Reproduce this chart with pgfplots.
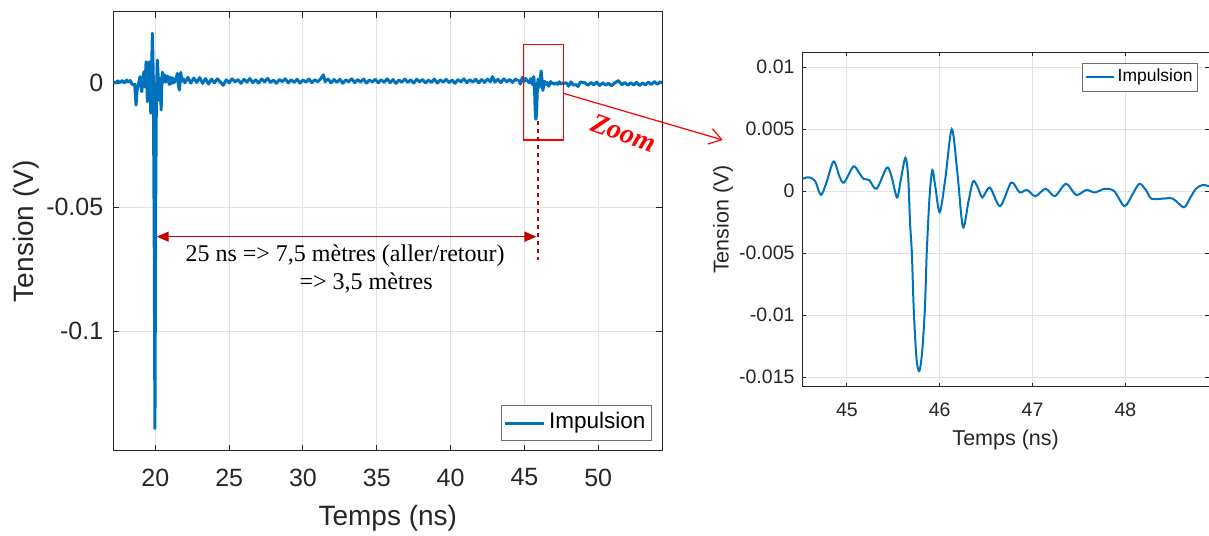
\documentclass[border=0pt]{standalone}
\usepackage{fontspec}
\setmainfont{Liberation Sans}
\newfontfamily\seriffont{Liberation Serif}
\usepackage{pgfplots}
\usepackage{pgfplotstable}
\pgfplotsset{compat=1.18}
\usetikzlibrary{arrows.meta}

\definecolor{mblue}{RGB}{0,114,189}
\definecolor{axgray}{RGB}{38,38,38}
\definecolor{gridgray}{RGB}{225,225,225}
\definecolor{darkred}{RGB}{192,0,0}
\definecolor{leggray}{RGB}{110,110,110}

% Left trace, start of record up to the echo
\pgfplotstableread{
x y
17.15 0.0006
17.3 0.0001
17.45 0.0010
17.6 0.0003
17.75 0.0011
17.9 0.0002
18.05 0.0013
18.17 0.0005
18.3 0.0011
18.42 -0.0003
18.51 -0.0007
18.6 -0.0003
18.69 -0.0088
18.76 -0.0030
18.82 -0.0010
18.9 0.0008
18.96 0.0027
19.02 -0.0006
19.08 -0.0034
19.15 0.0020
19.23 0.0047
19.3 -0.0015
19.37 0.0087
19.42 0.0010
19.46 -0.0074
19.52 0.0030
19.59 0.0087
19.64 0.0005
19.69 -0.0121
19.74 0.0050
19.80 0.0202
19.86 0.0020
19.92 -0.0600
19.97 -0.1393
20.02 -0.0500
20.07 -0.0040
20.14 0.0094
20.2 0.0010
20.27 -0.0070
20.33 0.0020
20.39 -0.0108
20.44 0.0010
20.48 0.0045
20.55 0.0005
20.6 0.0035
20.66 0.0027
20.72 0.0005
20.8 0.0030
20.88 0.0020
20.95 -0.0005
21.02 0.0025
21.1 -0.0001
21.17 0.0022
21.25 0.0002
21.33 0.0010
21.41 0.0020
21.49 0.0040
21.56 -0.0010
21.63 -0.0027
21.68 0.0010
21.72 0.0044
21.8 0.0008
21.9 0.0018
22.0 0.0002
22.2 0.0024
22.4 0.0001
22.6 0.0021
22.8 0.0004
23.0 0.0023
23.2 0.0000
23.4 0.0019
23.6 -0.0003
23.8 0.0017
24.0 0.0002
24.2 0.0018
24.4 0.0005
24.6 -0.0008
24.8 0.0014
25.0 0.0002
25.2 0.0018
25.4 0.0006
25.6 0.0015
25.8 0.0000
26.0 0.0016
26.2 0.0005
26.4 0.0019
26.6 0.0003
26.8 0.0014
27.0 0.0001
27.2 0.0017
27.4 0.0006
27.6 0.0020
27.8 0.0004
28.0 0.0013
28.2 0.0000
28.4 0.0015
28.6 0.0007
28.8 0.0018
29.0 0.0002
29.2 0.0014
29.4 0.0004
29.6 0.0016
29.8 0.0001
30.0 0.0013
30.2 0.0005
30.4 0.0017
30.6 0.0003
30.8 0.0014
31.0 0.0006
31.2 0.0018
31.38 0.0034
31.5 0.0007
31.7 0.0017
31.9 0.0002
32.1 0.0015
32.3 0.0004
32.5 0.0016
32.7 0.0000
32.9 0.0014
33.1 0.0006
33.3 0.0018
33.5 0.0003
33.7 0.0015
33.9 0.0005
34.1 0.0017
34.3 0.0001
34.5 0.0013
34.7 0.0006
34.9 0.0016
35.1 0.0002
35.3 0.0014
35.5 0.0004
35.7 0.0018
35.9 0.0003
36.1 0.0015
36.3 0.0000
36.5 0.0013
36.7 0.0005
36.9 0.0017
37.1 0.0004
37.3 0.0014
37.5 0.0001
37.7 0.0016
37.9 0.0006
38.1 0.0015
38.3 0.0002
38.5 0.0013
38.7 0.0004
38.9 0.0017
39.1 0.0001
39.3 0.0014
39.5 0.0005
39.7 0.0016
39.9 0.0003
40.1 0.0013
40.3 0.0000
40.5 0.0015
40.7 0.0006
40.9 0.0018
41.1 0.0003
41.3 0.0014
41.5 0.0005
41.7 0.0016
41.9 0.0002
42.1 0.0015
42.3 0.0004
42.5 0.0017
42.7 0.0006
42.83 0.0027
43.0 0.0005
43.2 0.0016
43.4 0.0003
43.6 0.0018
43.8 0.0006
44.0 0.0015
44.2 0.0004
44.4 0.0017
44.523 0.0010
}\startdata

% Echo (shown in both panels)
\pgfplotstableread{
x y
44.523 0.0010
44.56 0.0011
44.606 0.0011
44.66 0.0008
44.72 -0.0003
44.78 0.0007
44.857 0.0024
44.92 0.0012
44.97 0.0007
45.07 0.0020
45.13 0.0015
45.18 0.0010
45.24 0.0009
45.32 0.0002
45.43 0.0019
45.48 0.0012
45.54 -0.0005
45.58 0.0009
45.63 0.0027
45.66 0.0012
45.68 -0.0025
45.70 -0.0050
45.72 -0.0095
45.75 -0.0135
45.78 -0.0145
45.81 -0.0130
45.84 -0.0095
45.86 -0.0050
45.89 -0.0005
45.92 0.0017
45.95 0.0005
46.0 -0.0017
46.06 0.0010
46.13 0.0050
46.19 0.0015
46.25 -0.0029
46.31 -0.0008
46.36 0.0008
46.41 0.0003
46.46 -0.0005
46.54 0.0003
46.65 -0.0012
46.77 0.0007
46.86 -0.0001
46.94 0.0001
47.03 -0.0004
47.14 0.0002
47.24 -0.0004
47.36 0.0006
47.47 -0.0003
47.58 0.0001
47.67 -0.0001
47.78 0.0002
47.88 0.0000
47.99 -0.0012
48.08 -0.0002
48.15 0.0006
48.22 0.0001
48.28 -0.0006
48.4 -0.0006
48.51 -0.0006
48.63 -0.0013
48.70 -0.0005
48.76 0.0002
48.83 0.0005
48.9 0.0004
}\echodata

% Left trace, after the echo
\pgfplotstableread{
x y
48.9 0.0004
49.1 0.0002
49.3 -0.0008
49.5 0.0003
49.7 -0.0006
49.9 0.0005
50.1 -0.0009
50.3 0.0002
50.5 -0.0007
50.7 0.0000
50.9 -0.0010
51.1 0.0001
51.37 0.0011
51.6 -0.0006
51.8 0.0003
52.0 -0.0008
52.2 0.0002
52.4 -0.0007
52.6 0.0004
52.8 -0.0009
53.0 0.0001
53.2 -0.0006
53.4 0.0005
53.6 -0.0005
53.8 0.0007
54.0 -0.0004
54.2 0.0006
54.34 0.0001
}\taildata

\begin{document}
\begin{tikzpicture}
\useasboundingbox (0,0) rectangle (604.5pt,267.5pt);

% ---------------- left panel ----------------
\begin{axis}[
  at={(56.65pt,42pt)}, anchor=south west,
  scale only axis, width=274.5pt, height=219.65pt,
  xmin=17.15, xmax=54.34, ymin=-0.1484, ymax=0.0289,
  xtick={20,25,30,35,40,45,50},
  ytick={-0.1,-0.05,0}, yticklabels={-0.1,-0.05,0},
  scaled ticks=false,
  /pgf/number format/assume math mode=true,
  grid=major, major grid style={draw=gridgray, line width=0.5pt},
  axis line style={draw=axgray, line width=0.5pt},
  tick style={draw=axgray, line width=0.5pt},
  tick align=inside, major tick length=3pt,
  tick label style={font=\fontsize{12.5}{15}\selectfont, text=axgray},
  xticklabel style={yshift=-5.3pt},
  yticklabel style={xshift=-1.5pt},
  label style={font=\fontsize{14}{16}\selectfont, text=axgray},
  xlabel={Temps (ns)},
  ylabel={Tension (V)},
  xlabel style={at={(axis description cs:0.5,0)}, anchor=center, yshift=-33.65pt},
  ylabel style={at={(axis description cs:0,0.5)}, anchor=center, yshift=43.35pt},
  legend style={at={(rel axis cs:0.9812,0.0228)}, anchor=south east,
    draw=leggray, line width=0.5pt, fill=white,
    font=\fontsize{11.25}{13}\selectfont,
    inner xsep=1pt, inner ysep=1.4pt,
    nodes={inner sep=2pt, text height=8.2pt, text depth=2.4pt, text=black}},
  legend image code/.code={\draw[#1] (0pt,0pt) -- (19.5pt,0pt);},
]
\addplot[mblue, line width=1.5pt, line join=round] table {\startdata};
\addlegendentry{Impulsion}
\addplot[mblue, line width=1.5pt, line join=round, forget plot] table {\echodata};
\addplot[mblue, line width=1.5pt, line join=round, forget plot] table {\taildata};

\draw[red, line width=0.6pt] (axis cs:44.93,0.0157) rectangle (axis cs:47.64,-0.0229);
\draw[darkred, line width=0.8pt, dash pattern=on 2pt off 2pt] (axis cs:45.9,-0.0153) -- (axis cs:45.9,-0.0713);
\draw[darkred, line width=0.7pt, {Triangle[length=6pt,width=5pt]}-{Triangle[length=6pt,width=5pt]}]
  (axis cs:20.09,-0.0619) -- (axis cs:45.81,-0.0619);
\node[font=\seriffont\fontsize{12}{14}\selectfont, text=black] at (axis cs:32.85,-0.0696) {25 ns => 7,5 mètres (aller/retour)};
\node[font=\seriffont\fontsize{12}{14}\selectfont, text=black] at (axis cs:34.28,-0.0805) {=> 3,5 mètres};
\end{axis}

% zoom connector
\draw[red, line width=0.6pt, -{Straight Barb[length=6pt,width=8pt]}] (281.65pt,220.85pt) -- (361.35pt,197.5pt);
\node[text=red, rotate=-20, font=\seriffont\bfseries\itshape\fontsize{14}{16}\selectfont] at (312pt,201pt) {Zoom};

% ---------------- right panel ----------------
\begin{axis}[
  at={(401.15pt,74.15pt)}, anchor=south west,
  scale only axis, width=203.35pt, height=167.2pt,
  xmin=44.52, xmax=48.90, ymin=-0.01576, ymax=0.0112,
  xtick={45,46,47,48},
  ytick={-0.015,-0.01,-0.005,0,0.005,0.01},
  yticklabels={-0.015,-0.01,-0.005,0,0.005,0.01},
  scaled ticks=false,
  /pgf/number format/assume math mode=true,
  grid=major, major grid style={draw=gridgray, line width=0.5pt},
  axis line style={draw=axgray, line width=0.5pt},
  tick style={draw=axgray, line width=0.5pt},
  tick align=inside, major tick length=2pt,
  tick label style={font=\fontsize{9.75}{12}\selectfont, text=axgray},
  xticklabel style={yshift=-4.75pt},
  yticklabel style={xshift=-0.4pt},
  label style={font=\fontsize{10.75}{13}\selectfont, text=axgray},
  xlabel={Temps (ns)},
  ylabel={Tension (V)},
  xlabel style={at={(axis description cs:0.5,0)}, anchor=center, yshift=-26.5pt},
  ylabel style={at={(axis description cs:0,0.5)}, anchor=center, yshift=39.65pt},
  legend style={at={(rel axis cs:0.973,0.968)}, anchor=north east,
    draw=leggray, line width=0.5pt, fill=white,
    font=\fontsize{8.75}{10.5}\selectfont,
    inner xsep=1pt, inner ysep=1.25pt,
    nodes={inner sep=1.5pt, text height=6.5pt, text depth=1.9pt, text=black}},
  legend image code/.code={\draw[#1] (0pt,0pt) -- (14pt,0pt);},
]
\addplot[mblue, line width=1pt, smooth] table {\echodata};
\addlegendentry{Impulsion}
\end{axis}
\end{tikzpicture}
\end{document}
